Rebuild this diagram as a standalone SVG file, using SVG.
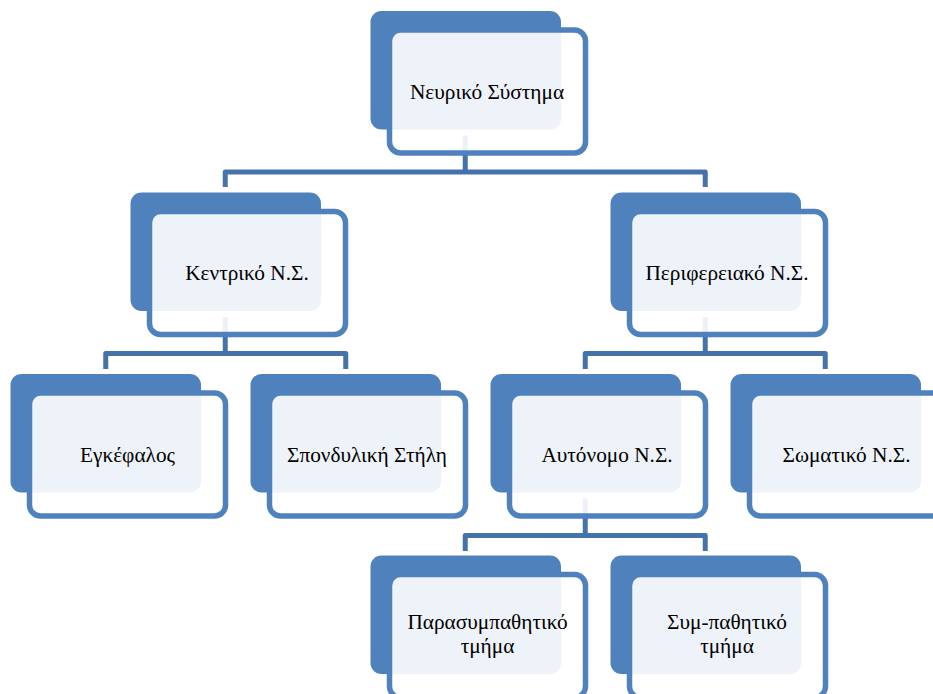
<svg xmlns="http://www.w3.org/2000/svg" width="933" height="694" viewBox="0 0 933 694">
<style>
.back{fill:#4F81BD}
.front{fill:#FFFFFF;fill-opacity:0.9;stroke:#4F81BD;stroke-width:5.5}
.conn{fill:none;stroke:#4672AA;stroke-width:5;stroke-linejoin:round}
text{font-family:"Liberation Serif","Times New Roman",serif;font-size:21.3px;fill:#000;text-anchor:middle}
</style>
<rect width="933" height="694" fill="#FFFFFF"/>
<g id="connectors">
<path class="conn" d="M465.25 135.5V172"/>
<path class="conn" d="M225.25 187V172H705.25V187"/>
<path class="conn" d="M225.25 317V353.5"/>
<path class="conn" d="M105.75 369V353.5H345.75V369"/>
<path class="conn" d="M705.25 317V353.5"/>
<path class="conn" d="M585.25 369V353.5H825.25V369"/>
<path class="conn" d="M585.25 498.5V535.5"/>
<path class="conn" d="M465.25 551V535.5H705.25V551"/>
</g>
<g id="n1">
<rect class="back" x="370.5" y="11" width="190.5" height="118.5" rx="11"/>
<rect class="front" x="389.5" y="30" width="196" height="123" rx="11"/>
<text x="487" y="98.5">Νευρικό Σύστημα</text>
</g>
<g id="n2">
<rect class="back" x="130.5" y="192.5" width="190.5" height="118.5" rx="11"/>
<rect class="front" x="149.5" y="211.5" width="196" height="123" rx="11"/>
<text x="247" y="280">Κεντρικό Ν.Σ.</text>
</g>
<g id="n3">
<rect class="back" x="610.5" y="192.5" width="190.5" height="118.5" rx="11"/>
<rect class="front" x="629.5" y="211.5" width="196" height="123" rx="11"/>
<text x="727" y="280">Περιφερειακό Ν.Σ.</text>
</g>
<g id="n4">
<rect class="back" x="10.5" y="374" width="190.5" height="118.5" rx="11"/>
<rect class="front" x="29.5" y="393" width="196" height="123" rx="11"/>
<text x="127.5" y="461.5">Εγκέφαλος</text>
</g>
<g id="n5">
<rect class="back" x="250.5" y="374" width="190.5" height="118.5" rx="11"/>
<rect class="front" x="269.5" y="393" width="196" height="123" rx="11"/>
<text x="367" y="461.5">Σπονδυλική Στήλη</text>
</g>
<g id="n6">
<rect class="back" x="490.5" y="374" width="190.5" height="118.5" rx="11"/>
<rect class="front" x="509.5" y="393" width="196" height="123" rx="11"/>
<text x="607" y="461.5">Αυτόνομο Ν.Σ.</text>
</g>
<g id="n7">
<rect class="back" x="730.5" y="374" width="190.5" height="118.5" rx="11"/>
<rect class="front" x="749.5" y="393" width="196" height="123" rx="11"/>
<text x="846.5" y="461.5">Σωματικό Ν.Σ.</text>
</g>
<g id="n8">
<rect class="back" x="370.5" y="555.5" width="190.5" height="118.5" rx="11"/>
<rect class="front" x="389.5" y="574.5" width="196" height="123" rx="11"/>
<text x="487.5" y="629">Παρασυμπαθητικό</text>
<text x="487.5" y="653">τμήμα</text>
</g>
<g id="n9">
<rect class="back" x="610.5" y="555.5" width="190.5" height="118.5" rx="11"/>
<rect class="front" x="629.5" y="574.5" width="196" height="123" rx="11"/>
<text x="727" y="629">Συμ-παθητικό</text>
<text x="727" y="653">τμήμα</text>
</g>
</svg>
